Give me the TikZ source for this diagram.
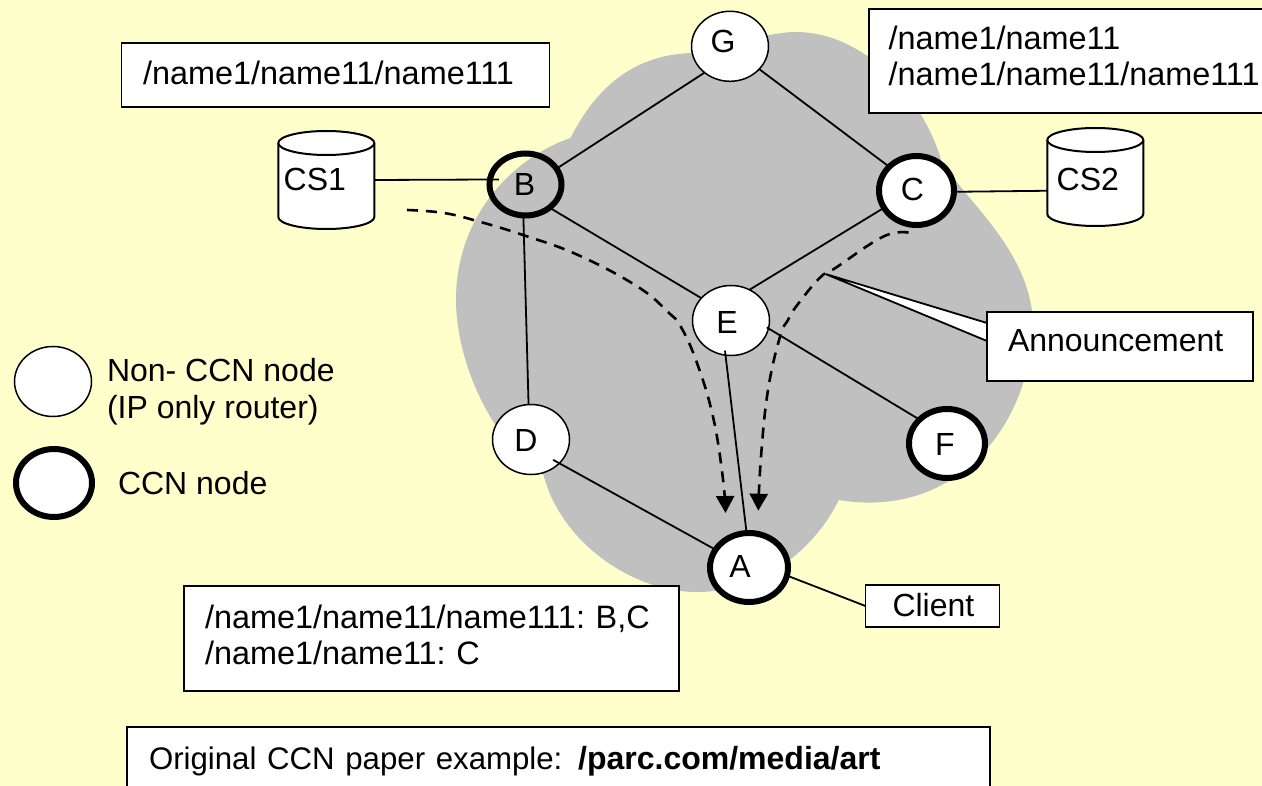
\documentclass[tikz,border=0pt]{standalone}
\usepackage{fontspec}
\setmainfont{Liberation Sans}
\usetikzlibrary{shapes.geometric,arrows.meta}
\definecolor{bgyellow}{HTML}{FFFFCC}
\definecolor{cloudgray}{HTML}{C0C0C0}
\newcommand\offtxt[3]{\raisebox{\dimexpr #2-11.5pt}[0pt][0pt]{\makebox[0pt][c]{\kern#1\relax #3}}}
\newcommand\namefont{\fontsize{32.4}{36}\selectfont}
\newcommand\storeshape[2]{\begin{scope}[shift={(#1,#2)}]
  \draw[storeline] (-48,-37) -- (-48,37) arc[start angle=180,end angle=360,x radius=48pt,y radius=12pt] -- (48,-37) arc[start angle=0,end angle=180,x radius=48pt,y radius=12pt] -- cycle;
  \draw[storeline] (-48,-37) arc[start angle=180,end angle=360,x radius=48pt,y radius=12pt];
\end{scope}}
\tikzset{
  every node/.style={font=\fontsize{32}{37}\selectfont,outer sep=0pt},
  thinnode/.style={ellipse,draw=black,fill=white,line width=1.5pt,inner sep=0pt,minimum width=2*38.5pt,minimum height=2*35pt},
  ccnnode/.style={ellipse,draw=black,fill=white,line width=6pt,inner sep=0pt},
  link/.style={draw=black,line width=1.8pt},
  box/.style={rectangle,draw=black,fill=white,line width=1.8pt,anchor=north west,inner ysep=0pt,inner xsep=0pt,align=left},
  storeline/.style={draw=black,fill=white,line width=2pt},
  storebody/.style={rectangle,inner sep=0pt,minimum width=96pt,minimum height=98pt},
  flow/.style={draw=black,line width=2.6pt,dash pattern=on 11pt off 8pt,-{Triangle[length=17pt,width=18pt,sep=0pt]}},
  plain/.style={anchor=base west,inner sep=0pt},
}
\begin{document}
\frenchspacing
\begin{tikzpicture}[x=1pt,y=-1pt]
\useasboundingbox (0,0) rectangle (1262,786);
\clip (0,0) rectangle (1262,786);
\fill[bgyellow] (0,0) rectangle (1262,786);
% cloud
\fill[cloudgray] (691,53) .. controls (640,55) and (600,80) .. (570.5,138)
 .. controls (520,155) and (456,210) .. (456,300)
 .. controls (456,360) and (490,440) .. (543.6,475)
 .. controls (560,540) and (630,592) .. (697,592)
 .. controls (770,592) and (820,540) .. (838.6,500)
 .. controls (960,520) and (1033,420) .. (1033,320)
 .. controls (1028,250) and (970,205) .. (942,162)
 .. controls (920,90) and (860,32) .. (796,32)
 .. controls (770,32) and (730,45) .. (691,53) -- cycle;
% dashed flows
\coordinate (flow1start) at (407,210);
\coordinate (flow1end) at (725.5,513);
\coordinate (flow2start) at (908.5,232.7);
\coordinate (flow2end) at (758.3,510.7);
\draw[flow] plot[smooth,tension=0.7] coordinates {(flow1start) (444,213) (479.5,221.7) (523,235) (578,255) (637.7,286.7) (669,313) (681,327) (697,363) (713,416.7) (722.7,476.7) (flow1end)};
\draw[flow] plot[smooth,tension=0.7] coordinates {(flow2start) (883,236.7) (835.4,268) (819.6,278) (796,306.7) (788,320) (780,336.7) (768,390) (761,456.7) (flow2end)};
% nodes
\node[thinnode] (G) at (730,46.3) {\offtxt{-14pt}{5pt}{G}};
\node[thinnode] (E) at (731,320.5) {\offtxt{-8pt}{-2pt}{E}};
\node[thinnode] (D) at (531,439.5) {\offtxt{-10pt}{0pt}{D}};
\node[ccnnode,fill=none,minimum width=72pt,minimum height=62pt] (B) at (525.5,184.5) {\offtxt{-2pt}{0pt}{B}};
\node[ccnnode,minimum width=75pt,minimum height=69pt] (C) at (916.5,190.5) {\offtxt{-8pt}{1.5pt}{C}};
\node[ccnnode,minimum width=76pt,minimum height=69pt] (F) at (947,443.5) {\offtxt{-4pt}{0pt}{F}};
\node[ccnnode,minimum width=78pt,minimum height=69pt] (A) at (749,567.5) {\offtxt{-18pt}{1.5pt}{A}};
\storeshape{326.3}{180}
\storeshape{1095.3}{177}
\node[storebody] (CS1) at (326.3,180) {\offtxt{-23pt}{1.3pt}{CS1}};
\node[storebody] (CS2) at (1095.3,177) {\offtxt{-15pt}{-1.7pt}{CS2}};
% boxes
\node[box,minimum width=428pt,text width=428pt,text height=42pt,text depth=22pt] (label1) at (121.5,42.7) {\hspace*{21.5pt}\namefont /name1/name11/name111};
\node[box,minimum width=500pt,minimum height=104pt,text width=500pt] (label2) at (868.6,9.3) {\namefont \hspace*{20pt}/name1/name11\\\hspace*{20pt}/name1/name11/name111\\[-26pt]\mbox{}};
\node[box,minimum width=495pt,minimum height=105pt,text width=495pt] (label3) at (184,586) {\namefont \hspace*{21pt}/name1/name11/name111: B,C\\\hspace*{21pt}/name1/name11: C\\[-30pt]\mbox{}};
\node[box,minimum width=863pt,text width=863pt,text height=42pt,text depth=41pt] (label4) at (127,727) {\hspace*{22pt}\fontsize{31.2}{37}\selectfont Original CCN paper example: \hspace{5pt}\textbf{\fontsize{32}{37}\selectfont /parc.com/media/art}};
\node[box,minimum width=134pt,text width=134pt,text height=31pt,text depth=11pt] (client) at (865.5,585) {\hspace*{27pt}Client};
% callout
\coordinate (tip) at (825.5,274);
\fill[white,draw=black,line width=1.8pt,line join=miter] (tip) -- (987,323) -- (987,341) -- cycle;
\node[box,minimum width=266pt,text width=266pt,text height=40pt,text depth=29pt] (ann) at (987,312) {\hspace*{21pt}Announcement};
% links
\draw[link] (G.226) -- (B.27);
\draw[link] (G.-38) -- (C.139);
\draw[link] (B.-44) -- (E.143);
\draw[link] (C.208) -- (E.59);
\draw[link] (B.-94) -- (D.94);
\draw[link,shorten <=-4.5pt] (E.-99) -- (A.94);
\draw[link,shorten <=-2pt] (E.-12) -- (F.139);
\draw[link,shorten <=-7pt] (D.-40) -- (A.152);
\draw[link] (A.-12) -- (client.west);
\draw[link,shorten >=-9pt] (CS1.east) -- (B.172);
\draw[link] (C.-2) -- (CS2.196);
% legend
\node[thinnode] (legthin) at (53,381.5) {};
\node[ccnnode,minimum width=76pt,minimum height=68pt] (legccn) at (54,483) {};
\node[plain] (legtxt1) at (107,382) {Non- CCN node};
\node[plain] (legtxt2) at (107,418) {(IP only router)};
\node[plain] (legtxt3) at (118,494) {CCN node};
\end{tikzpicture}
\end{document}
